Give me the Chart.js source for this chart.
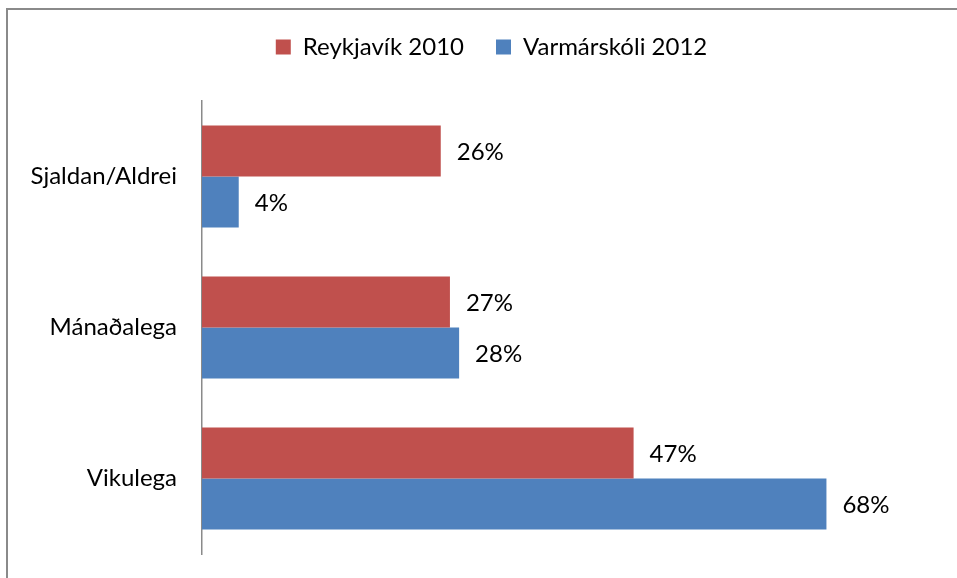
<!DOCTYPE html>
<html>
<head>
<meta charset="utf-8">
<script src="https://cdn.jsdelivr.net/npm/chart.js@4"></script>
<style>
  html, body { margin:0; padding:0; background:#fff; }
  #wrap { position:relative; width:957px; height:578px; overflow:hidden; }
  #frame { position:absolute; left:6px; top:8px; width:980px; height:600px; border-left:2px solid #8a8a8a; border-top:2px solid #8a8a8a; }
  canvas { position:absolute; left:0; top:0; }
</style>
</head>
<body>
<div id="wrap">
  <div id="frame"></div>
  <canvas id="chart" width="957" height="578"></canvas>
</div>
<script>
// tíðni - samanburður
const categories = ['Sjaldan/Aldrei', 'Mánaðalega', 'Vikulega'];
const seriesNames = ['Reykjavík 2010', 'Varmárskóli 2012'];
const reykjavik = [26, 27, 47];
const varmarskoli = [4, 28, 68];
const FONT = 'Lato, "Open Sans", sans-serif';

// stækka legend svo plottið byrji neðar, og hliðra því aðeins til hægri
const legendSpace = {
  id: 'legendSpace',
  beforeInit(chart){
    const lg = chart.legend;
    const fit = lg.fit;
    lg.fit = function(){
      fit.call(lg);
      this.height += 32;
    };
    const draw = lg.draw;
    lg.draw = function(){
      chart.ctx.save();
      chart.ctx.translate(14, 0);
      draw.call(lg);
      chart.ctx.restore();
    };
  }
};

// prósentutölur við enda súlna
const barLabels = {
  id: 'barLabels',
  afterDatasetsDraw(chart){
    const ctx = chart.ctx;
    ctx.save();
    ctx.font = '24px ' + FONT;
    ctx.fillStyle = '#000';
    ctx.textAlign = 'left';
    ctx.textBaseline = 'middle';
    chart.data.datasets.forEach((ds, i) => {
      chart.getDatasetMeta(i).data.forEach((bar, j) => {
        ctx.fillText(ds.data[j] + '%', bar.x + 16, bar.y + 1);
      });
    });
    ctx.restore();
  }
};

new Chart(document.getElementById('chart'), {
  type: 'bar',
  data: {
    labels: categories,
    datasets: [
      { label: seriesNames[0], data: reykjavik, backgroundColor: '#C0504D' },
      { label: seriesNames[1], data: varmarskoli, backgroundColor: '#4F81BD' }
    ]
  },
  options: {
    indexAxis: 'y',
    responsive: false,
    animation: false,
    layout: { padding: { top: 3, right: 2, bottom: 24, left: 0 } },
    datasets: { bar: { barPercentage: 1, categoryPercentage: 0.675 } },
    plugins: {
      legend: {
        position: 'top',
        labels: { boxWidth: 15, boxHeight: 15, padding: 32, color: '#000', font: { family: FONT, size: 24 } }
      },
      tooltip: { enabled: false }
    },
    scales: {
      x: { display: false, min: 0, max: 82 },
      y: {
        grid: { display: false, drawTicks: false },
        border: { display: true, color: '#8a8a8a', width: 1.5 },
        ticks: { color: '#000', padding: 25, font: { family: FONT, size: 24 } },
        afterFit(scale){
          scale.width = 202;
          scale.paddingTop = 0;
          scale.paddingBottom = 0;
        }
      }
    }
  },
  plugins: [legendSpace, barLabels]
});
</script>
</body>
</html>
